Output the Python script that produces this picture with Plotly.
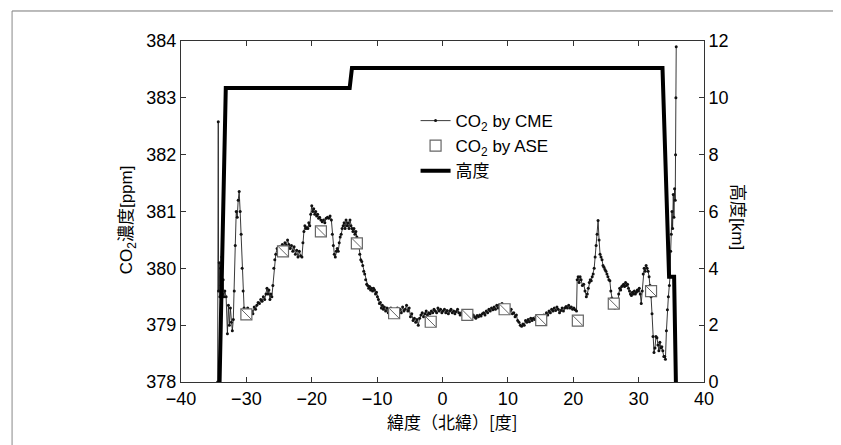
import plotly.graph_objects as go

# ---- CO2 by CME (latitude [deg], CO2 [ppm]) ----
cme_lat = [
    -34.40, -34.30, -34.25, -34.15, -34.05, -33.95, -33.85, -33.75, -33.65, -33.55,
    -33.45, -33.30, -33.10, -32.90, -32.75, -32.60, -32.45, -32.30, -32.15, -32.00,
    -31.85, -31.70, -31.55, -31.40, -31.25, -31.10, -30.95, -30.80, -30.65, -30.50,
    -30.35, -30.20, -30.00, -29.80, -29.60, -29.40, -29.20, -29.00, -28.80, -28.60,
    -28.40, -28.20, -28.00, -27.80, -27.60, -27.40, -27.20, -27.00, -26.85, -26.70,
    -26.55, -26.40, -26.25, -26.10, -25.95, -25.80, -25.65, -25.50, -25.30, -25.10,
    -24.90, -24.70, -24.50, -24.30, -24.10, -23.90, -23.70, -23.50, -23.30, -23.10,
    -22.90, -22.70, -22.50, -22.30, -22.10, -21.90, -21.70, -21.50, -21.35, -21.20,
    -21.05, -20.90, -20.75, -20.60, -20.45, -20.30, -20.15, -20.00, -19.85, -19.70,
    -19.55, -19.40, -19.25, -19.10, -18.95, -18.80, -18.60, -18.40, -18.20, -18.00,
    -17.80, -17.60, -17.40, -17.20, -17.00, -16.85, -16.70, -16.55, -16.40, -16.25,
    -16.10, -15.95, -15.80, -15.65, -15.50, -15.35, -15.20, -15.05, -14.90, -14.75,
    -14.60, -14.45, -14.30, -14.15, -14.00, -13.85, -13.70, -13.55, -13.40, -13.25,
    -13.10, -12.95, -12.80, -12.65, -12.50, -12.35, -12.20, -12.05, -11.90, -11.75,
    -11.60, -11.45, -11.30, -11.15, -11.00, -10.85, -10.70, -10.55, -10.40, -10.25,
    -10.10, -9.95, -9.80, -9.65, -9.50, -9.35, -9.20, -9.05, -8.90, -8.70,
    -8.50, -8.30, -8.10, -7.90, -7.70, -7.50, -7.30, -7.10, -6.90, -6.70,
    -6.50, -6.30, -6.10, -5.90, -5.70, -5.50, -5.30, -5.10, -4.90, -4.70,
    -4.50, -4.30, -4.10, -3.90, -3.70, -3.50, -3.30, -3.10, -2.90, -2.70,
    -2.50, -2.30, -2.10, -1.90, -1.70, -1.50, -1.30, -1.10, -0.90, -0.70,
    -0.50, -0.30, -0.10, 0.10, 0.30, 0.50, 0.70, 0.90, 1.10, 1.30,
    1.50, 1.70, 1.90, 2.10, 2.30, 2.50, 2.70, 2.90, 3.10, 3.30,
    3.50, 3.70, 3.90, 4.10, 4.30, 4.50, 4.70, 4.90, 5.10, 5.30,
    5.50, 5.70, 5.90, 6.10, 6.30, 6.50, 6.70, 6.90, 7.10, 7.30,
    7.50, 7.70, 7.90, 8.10, 8.30, 8.50, 8.70, 8.90, 9.10, 9.30,
    9.50, 9.70, 9.90, 10.10, 10.30, 10.50, 10.70, 10.90, 11.10, 11.30,
    11.50, 11.70, 11.90, 12.10, 12.30, 12.50, 12.70, 12.90, 13.10, 13.30,
    13.50, 13.70, 13.90, 14.10, 14.30, 14.50, 14.70, 14.90, 15.10, 15.30,
    15.50, 15.70, 15.90, 16.10, 16.30, 16.50, 16.70, 16.90, 17.10, 17.30,
    17.50, 17.70, 17.90, 18.10, 18.30, 18.50, 18.70, 18.90, 19.10, 19.30,
    19.50, 19.70, 19.90, 20.10, 20.30, 20.50, 20.60, 20.75, 20.90, 21.05,
    21.20, 21.40, 21.60, 21.80, 22.00, 22.15, 22.30, 22.45, 22.60, 22.75,
    22.90, 23.05, 23.20, 23.35, 23.50, 23.65, 23.80, 23.95, 24.10, 24.25,
    24.40, 24.55, 24.70, 24.85, 25.00, 25.15, 25.30, 25.45, 25.60, 25.75,
    25.90, 26.05, 26.20, 26.35, 26.50, 26.65, 26.80, 26.95, 27.10, 27.25,
    27.40, 27.55, 27.70, 27.85, 28.00, 28.15, 28.30, 28.45, 28.60, 28.75,
    28.90, 29.05, 29.20, 29.35, 29.50, 29.65, 29.80, 29.95, 30.10, 30.25,
    30.40, 30.55, 30.70, 30.85, 31.00, 31.15, 31.30, 31.45, 31.60, 31.75,
    31.90, 32.05, 32.20, 32.35, 32.50, 32.65, 32.80, 32.95, 33.10, 33.25,
    33.40, 33.55, 33.70, 33.85, 34.00, 34.10, 34.25, 34.40, 34.55, 34.70,
    34.80, 34.90, 35.00, 35.10, 35.20, 35.30, 35.40, 35.50, 35.60, 35.65,
    35.70, 35.75,
]
cme_co2 = [
    378.00, 382.58, 379.60, 380.10, 379.50, 380.00, 379.70, 380.20, 379.55, 379.80,
    379.50, 379.60, 379.50, 378.85, 379.35, 379.00, 379.30, 379.05, 378.90, 379.10,
    379.60, 380.40, 381.00, 380.90, 381.20, 381.35, 381.00, 380.60, 380.00, 379.60,
    379.30, 379.25, 379.20, 379.30, 379.20, 379.15, 379.25, 379.20, 379.32, 379.28,
    379.35, 379.40, 379.38, 379.45, 379.42, 379.50, 379.45, 379.55, 379.65, 379.55,
    379.62, 379.45, 379.55, 379.50, 379.70, 380.00, 380.15, 380.25, 380.35, 380.30,
    380.38, 380.35, 380.42, 380.38, 380.45, 380.40, 380.50, 380.42, 380.35, 380.40,
    380.30, 380.38, 380.25, 380.32, 380.20, 380.30, 380.22, 380.20, 380.45, 380.65,
    380.75, 380.70, 380.72, 380.70, 380.80, 380.75, 380.95, 381.10, 381.00, 381.05,
    380.95, 381.00, 380.92, 380.95, 380.88, 380.90, 380.85, 380.82, 380.85, 380.80,
    380.88, 380.90, 380.88, 380.92, 380.85, 380.60, 380.40, 380.25, 380.20, 380.30,
    380.35, 380.30, 380.45, 380.55, 380.60, 380.70, 380.75, 380.80, 380.70, 380.85,
    380.75, 380.80, 380.70, 380.85, 380.75, 380.70, 380.65, 380.70, 380.60, 380.65,
    380.55, 380.50, 380.40, 380.25, 380.15, 380.12, 380.05, 379.95, 379.90, 379.80,
    379.72, 379.70, 379.65, 379.68, 379.62, 379.65, 379.60, 379.65, 379.62, 379.55,
    379.58, 379.50, 379.45, 379.38, 379.40, 379.30, 379.35, 379.28, 379.32, 379.25,
    379.30, 379.22, 379.28, 379.30, 379.22, 379.25, 379.18, 379.25, 379.30, 379.20,
    379.28, 379.22, 379.32, 379.25, 379.28, 379.35, 379.25, 379.30, 379.15, 379.20,
    379.08, 379.12, 379.05, 379.10, 379.00, 379.12, 379.18, 379.22, 379.15, 379.20,
    379.25, 379.18, 379.22, 379.20, 379.25, 379.22, 379.28, 379.25, 379.22, 379.30,
    379.25, 379.28, 379.22, 379.25, 379.28, 379.22, 379.26, 379.20, 379.25, 379.28,
    379.22, 379.25, 379.20, 379.24, 379.28, 379.22, 379.18, 379.22, 379.18, 379.15,
    379.20, 379.17, 379.20, 379.15, 379.18, 379.14, 379.18, 379.15, 379.12, 379.17,
    379.15, 379.18, 379.16, 379.20, 379.22, 379.18, 379.25, 379.22, 379.28, 379.25,
    379.30, 379.27, 379.32, 379.28, 379.35, 379.30, 379.36, 379.32, 379.38, 379.33,
    379.30, 379.35, 379.28, 379.30, 379.25, 379.28, 379.20, 379.22, 379.15, 379.18,
    379.08, 379.05, 379.00, 378.98, 379.02, 379.00, 379.08, 379.05, 379.10, 379.06,
    379.12, 379.08, 379.12, 379.10, 379.15, 379.12, 379.16, 379.12, 379.15, 379.12,
    379.18, 379.15, 379.22, 379.18, 379.25, 379.22, 379.28, 379.25, 379.30, 379.26,
    379.32, 379.28, 379.22, 379.26, 379.30, 379.25, 379.30, 379.33, 379.30, 379.35,
    379.30, 379.32, 379.28, 379.30, 379.27, 379.25, 379.80, 379.85, 379.75, 379.85,
    379.80, 379.70, 379.72, 379.60, 379.50, 379.55, 379.65, 379.75, 379.80, 379.78,
    379.85, 379.90, 380.00, 380.20, 380.40, 380.60, 380.84, 380.50, 380.25, 380.20,
    380.15, 380.05, 380.02, 379.98, 379.95, 379.90, 379.85, 379.80, 379.78, 379.60,
    379.48, 379.40, 379.35, 379.30, 379.38, 379.32, 379.40, 379.55, 379.65, 379.62,
    379.68, 379.70, 379.72, 379.68, 379.75, 379.70, 379.72, 379.65, 379.60, 379.55,
    379.52, 379.58, 379.55, 379.60, 379.55, 379.58, 379.62, 379.60, 379.65, 379.55,
    379.38, 379.60, 379.90, 380.00, 379.95, 380.05, 380.00, 379.95, 379.85, 379.70,
    379.50, 379.20, 378.80, 378.52, 378.60, 378.80, 378.78, 378.65, 378.55, 378.70,
    378.60, 378.62, 378.55, 378.45, 378.45, 378.40, 378.90, 379.27, 379.50, 379.70,
    379.85, 380.30, 380.60, 381.00, 380.70, 381.30, 380.90, 381.40, 381.20, 382.00,
    383.00, 383.90,
]

# ---- CO2 by ASE ----
ase_lat = [-30.0, -24.4, -18.6, -13.1, -7.4, -1.8, 3.8, 9.5, 15.1, 20.7, 26.2, 31.9]
ase_co2 = [379.19, 380.30, 380.65, 380.44, 379.21, 379.06, 379.18, 379.28, 379.09, 379.08, 379.38, 379.60]

# ---- Altitude (km) ----
alt_lat = [-34.10, -33.15, -14.20, -13.85, 33.65, 34.66, 35.43, 35.70]
alt_km = [0.0, 10.35, 10.35, 11.05, 11.05, 3.7, 3.7, 0.0]

x_ticks = [-40, -30, -20, -10, 0, 10, 20, 30, 40]
y_ticks = [378, 379, 380, 381, 382, 383, 384]
y2_ticks = [0, 2, 4, 6, 8, 10, 12]

FONT = "Liberation Sans, Noto Sans CJK JP, sans-serif"
CJK = "Noto Sans CJK JP, sans-serif"

fig = go.Figure()

fig.add_trace(go.Scatter(
    x=cme_lat, y=cme_co2, mode="lines+markers", name="CO<sub>2</sub> by CME",
    line=dict(color="#222222", width=0.9),
    marker=dict(color="#111111", size=3),
))
fig.add_trace(go.Scatter(
    x=ase_lat, y=ase_co2, mode="markers", name="CO<sub>2</sub> by ASE",
    marker=dict(symbol="square", size=11, color="white",
                line=dict(color="#666666", width=1.2)),
))
fig.add_trace(go.Scatter(
    x=ase_lat, y=ase_co2, mode="markers", showlegend=False, hoverinfo="skip",
    marker=dict(symbol="line-nw", size=10, line=dict(color="#666666", width=1)),
))
fig.add_trace(go.Scatter(
    x=alt_lat, y=alt_km, mode="lines", name="高度", yaxis="y2",
    line=dict(color="black", width=4),
))

axis_common = dict(
    showline=True, linecolor="#333333", linewidth=1,
    ticks="inside", ticklen=5, tickcolor="#333333",
    showgrid=False, zeroline=False,
    tickfont=dict(family=FONT, size=18, color="black"),
)

# the page body has an 8px margin, so the figure is 8px smaller and its
# margins are reduced by 8px to keep the plot area in place
fig.update_layout(
    width=833, height=437, autosize=False,
    margin=dict(l=173, r=137, t=33, b=63),
    paper_bgcolor="white", plot_bgcolor="white",
    xaxis=dict(range=[-40, 40], tickvals=x_ticks, mirror="ticks", **axis_common),
    yaxis=dict(range=[378, 384], tickvals=y_ticks, **axis_common),
    yaxis2=dict(range=[0, 12], tickvals=y2_ticks, overlaying="y", side="right",
                anchor="x", **axis_common),
    legend=dict(x=0.4485, y=0.818, xanchor="left", yanchor="top",
                bgcolor="rgba(0,0,0,0)", borderwidth=0,
                font=dict(family=FONT, size=17, color="black"),
                tracegroupgap=0),
    showlegend=True,
)

fig.add_annotation(text="CO<sub>2</sub>濃度[ppm]", xref="paper", yref="paper",
                   x=-0.101, y=0.475, xanchor="center", yanchor="middle",
                   textangle=-90, showarrow=False,
                   font=dict(family=FONT, size=17, color="black"))
fig.add_annotation(text="高度[km]", xref="paper", yref="paper",
                   x=1.063, y=0.484, xanchor="center", yanchor="middle",
                   textangle=90, showarrow=False,
                   font=dict(family=FONT, size=17, color="black"))
fig.add_annotation(text="緯度（北緯）[度]", xref="paper", yref="paper",
                   x=0.52, y=-0.117, xanchor="center", yanchor="middle",
                   showarrow=False,
                   font=dict(family=CJK, size=17, color="black"))

# scanned page frame (top and left edges)
fig.add_shape(type="line", xref="paper", yref="paper", x0=-0.323, x1=1.31,
              y0=1.088, y1=1.088, line=dict(color="#777777", width=1))
fig.add_shape(type="line", xref="paper", yref="paper", x0=-0.323, x1=-0.323,
              y0=1.088, y1=-0.185, line=dict(color="#888888", width=1))

fig.write_html("out.html")
